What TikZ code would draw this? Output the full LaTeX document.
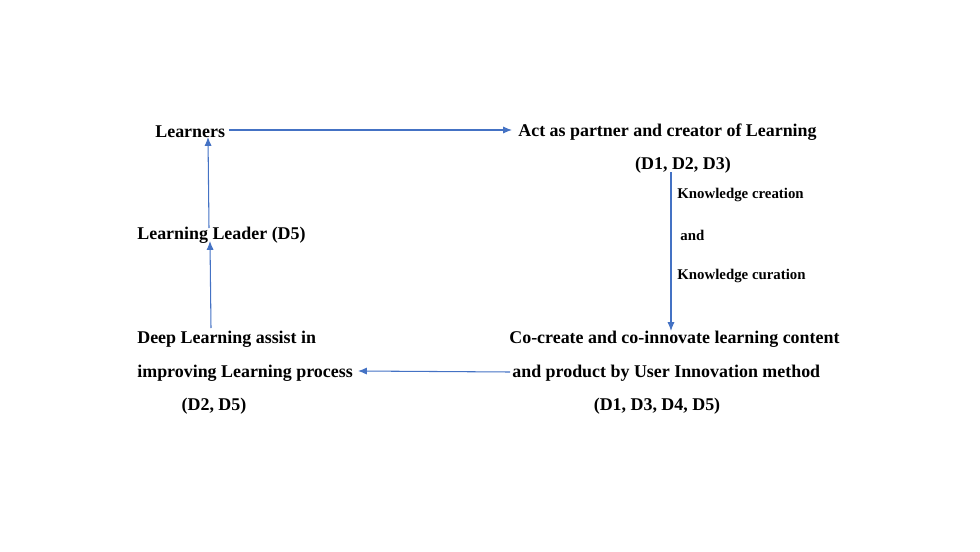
\documentclass[tikz,border=0pt]{standalone}
\usepackage{fontspec}
\setmainfont{Liberation Serif}
\usetikzlibrary{arrows.meta}
\begin{document}
\begin{tikzpicture}[x=0.02cm,y=-0.02cm,
  lbl/.style={font=\fontsize{10.2}{12}\selectfont\bfseries,inner sep=0pt},
  sml/.style={font=\fontsize{8.45}{9}\selectfont\bfseries,inner sep=0pt,anchor=west},
  arr/.style={draw={rgb,255:red,68;green,114;blue,196},line width=0.6pt,-{Latex[length=5pt,width=4pt]}}]
\useasboundingbox (0,0) rectangle (980,551);
\node[lbl,anchor=west] (learn) at (155,132) {Learners};
\node[lbl,anchor=west] (act) at (518,132) {Act as partner and creator of Learning};
\node[lbl] (actd) at (683,165) {(D1, D2, D3)};
\node[sml] (k1) at (677,195) {Knowledge creation};
\node[sml] (k2) at (680,235) {and};
\node[sml] (k3) at (677,276) {Knowledge curation};
\node[lbl,anchor=west] (lead) at (137,235) {Learning Leader (D5)};
\node[lbl,anchor=west] (deep1) at (137,339) {Deep Learning assist in};
\node[lbl,anchor=west] (deep2) at (137,373) {improving Learning process};
\node[lbl] (deepd) at (214,406) {(D2, D5)};
\node[lbl,anchor=west] (co1) at (509,339) {Co-create and co-innovate learning content};
\node[lbl,anchor=west] (co2) at (512,373) {and product by User Innovation method};
\node[lbl] (cod) at (657,406) {(D1, D3, D4, D5)};
\coordinate (a1) at (229,130); \coordinate (a2) at (512,130);
\coordinate (b1) at (671,172); \coordinate (b2) at (671,331);
\coordinate (c1) at (510,372); \coordinate (c2) at (358,371);
\coordinate (d1) at (211,328); \coordinate (d2) at (210,241);
\coordinate (e1) at (209,228); \coordinate (e2) at (208,137);
\draw[arr] (a1) -- (a2);
\draw[arr] (b1) -- (b2);
\draw[arr] (c1) -- (c2);
\draw[arr] (d1) -- (d2);
\draw[arr] (e1) -- (e2);
\end{tikzpicture}
\end{document}
